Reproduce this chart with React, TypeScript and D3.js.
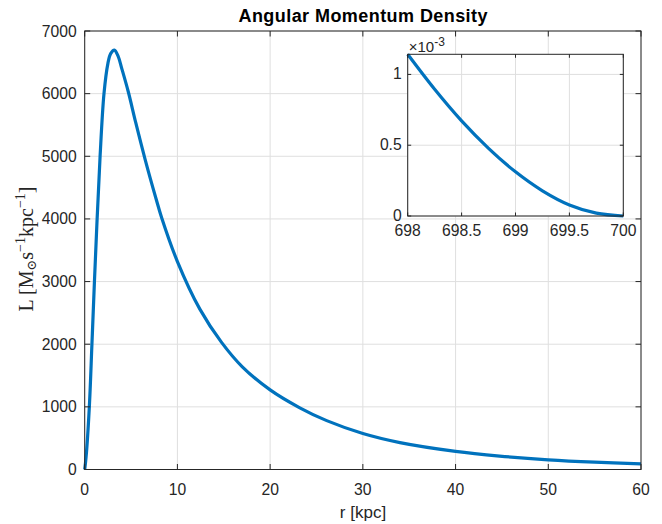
import React from "react";
import * as d3 from "d3";

// Main curve: r [kpc] and L values
const rValues = [0, 0.15, 0.5, 0.78, 1.05, 1.34, 1.66, 2.08, 2.5, 2.8, 3.2, 3.6, 4.0, 4.7, 5.5, 6.5, 7.68, 8.3, 10, 12.42, 14.76, 17, 20, 23.2, 26.1, 30, 34, 40, 44.75, 50, 55, 60];
const lValues = [0, 200, 1000, 2000, 3000, 4000, 5000, 6000, 6480, 6640, 6695, 6600, 6400, 6030, 5540, 4960, 4330, 4020, 3320, 2560, 2030, 1640, 1271, 985, 780, 575, 430, 290, 215, 155, 117, 91];

// Inset curve (values in units of 1e-3)
const insetR = [698, 698.25, 698.5, 698.75, 699, 699.25, 699.5, 699.75, 700];
const insetL = [1.142, 0.895, 0.672, 0.478, 0.312, 0.178, 0.078, 0.02, 0];

const xTicks = [0, 10, 20, 30, 40, 50, 60];
const yTicks = [0, 1000, 2000, 3000, 4000, 5000, 6000, 7000];
const insetXTicks = [698, 698.5, 699, 699.5, 700];
const insetYTicks = [0, 0.5, 1];

const titleText = "Angular Momentum Density";
const xLabelText = "r [kpc]";

const BLUE = "#0072BD";
const GRID = "#dfdfdf";
const AXIS = "#262626";
const FONT = "'Liberation Sans', Arial, Helvetica, sans-serif";

export default function App() {
  const W = 662, H = 524;
  const x = d3.scaleLinear().domain([0, 60]).range([84.7, 641]);
  const y = d3.scaleLinear().domain([0, 7000]).range([469.5, 31]);
  const ix = d3.scaleLinear().domain([698, 700]).range([407.7, 623.3]);
  const iy = d3.scaleLinear().domain([0, 1.142]).range([216, 54.3]);

  const mainData = rValues.map((r, i) => [r, lValues[i]] as [number, number]);
  const insetData = insetR.map((r, i) => [r, insetL[i]] as [number, number]);

  const line = d3.line<[number, number]>().x(d => x(d[0])).y(d => y(d[1])).curve(d3.curveCatmullRom.alpha(0.5));
  const iline = d3.line<[number, number]>().x(d => ix(d[0])).y(d => iy(d[1])).curve(d3.curveCatmullRom.alpha(0.5));

  const [x0, x1] = x.range();
  const [y0, y1] = y.range();
  const [ix0, ix1] = ix.range();
  const [iy0, iy1] = iy.range();
  const tl = 5.5;
  const itl = 3.5;
  const fs = 15.7;

  return (
    <svg width={W} height={H} style={{ position: "absolute", left: 0, top: 0, background: "#fff" }} fontFamily={FONT}>
      <rect x={0} y={0} width={W} height={H} fill="#fff" />
      {/* main grid */}
      {xTicks.map(t => (
        <line key={"gx" + t} x1={x(t)} x2={x(t)} y1={y0} y2={y1} stroke={GRID} strokeWidth={1} />
      ))}
      {yTicks.map(t => (
        <line key={"gy" + t} x1={x0} x2={x1} y1={y(t)} y2={y(t)} stroke={GRID} strokeWidth={1} />
      ))}
      {/* main curve */}
      <path d={line(mainData) || ""} fill="none" stroke={BLUE} strokeWidth={3.2} strokeLinejoin="round" />
      {/* main box */}
      <rect x={x0} y={y1} width={x1 - x0} height={y0 - y1} fill="none" stroke={AXIS} strokeWidth={1} />
      {xTicks.map(t => (
        <g key={"tx" + t}>
          <line x1={x(t)} x2={x(t)} y1={y0} y2={y0 - tl} stroke={AXIS} />
          <line x1={x(t)} x2={x(t)} y1={y1} y2={y1 + tl} stroke={AXIS} />
          <text x={x(t)} y={y0 + 25.5} textAnchor="middle" fontSize={fs} fill={AXIS}>{t}</text>
        </g>
      ))}
      {yTicks.map(t => (
        <g key={"ty" + t}>
          <line x1={x0} x2={x0 + tl} y1={y(t)} y2={y(t)} stroke={AXIS} />
          <line x1={x1} x2={x1 - tl} y1={y(t)} y2={y(t)} stroke={AXIS} />
          <text x={x0 - 8} y={y(t) + 5.5} textAnchor="end" fontSize={fs} fill={AXIS}>{t}</text>
        </g>
      ))}
      {/* title and labels */}
      <text x={363} y={22} textAnchor="middle" fontSize={18} fontWeight="bold" fill="#000" textLength={249} lengthAdjust="spacing">{titleText}</text>
      <text x={363} y={518} textAnchor="middle" fontSize={17} fill={AXIS}>{xLabelText}</text>
      <text transform="translate(33,249) rotate(-90)" textAnchor="middle" fontFamily="'Liberation Serif', 'DejaVu Serif', serif" fontSize={20} fill={AXIS}>
        <tspan>L [M</tspan>
        <tspan fontSize={13} dy={3}>⊙</tspan>
        <tspan dy={-3}>s</tspan>
        <tspan fontSize={14} dy={-8}>−1</tspan>
        <tspan dy={8}>kpc</tspan>
        <tspan fontSize={14} dy={-8}>−1</tspan>
        <tspan dy={8}>]</tspan>
      </text>

      {/* inset */}
      <rect x={ix0} y={iy1} width={ix1 - ix0} height={iy0 - iy1} fill="#fff" />
      {insetXTicks.map(t => (
        <line key={"igx" + t} x1={ix(t)} x2={ix(t)} y1={iy0} y2={iy1} stroke={GRID} strokeWidth={1} />
      ))}
      {insetYTicks.map(t => (
        <line key={"igy" + t} x1={ix0} x2={ix1} y1={iy(t)} y2={iy(t)} stroke={GRID} strokeWidth={1} />
      ))}
      <path d={iline(insetData) || ""} fill="none" stroke={BLUE} strokeWidth={3.2} strokeLinejoin="round" />
      <rect x={ix0} y={iy1} width={ix1 - ix0} height={iy0 - iy1} fill="none" stroke={AXIS} strokeWidth={1} />
      {insetXTicks.map(t => (
        <g key={"itx" + t}>
          <line x1={ix(t)} x2={ix(t)} y1={iy0} y2={iy0 - itl} stroke={AXIS} />
          <line x1={ix(t)} x2={ix(t)} y1={iy1} y2={iy1 + itl} stroke={AXIS} />
          <text x={ix(t)} y={iy0 + 20} textAnchor="middle" fontSize={fs} fill={AXIS}>{t}</text>
        </g>
      ))}
      {insetYTicks.map(t => (
        <g key={"ity" + t}>
          <line x1={ix0} x2={ix0 + itl} y1={iy(t)} y2={iy(t)} stroke={AXIS} />
          <line x1={ix1} x2={ix1 - itl} y1={iy(t)} y2={iy(t)} stroke={AXIS} />
          <text x={ix0 - 6} y={iy(t) + 5} textAnchor="end" fontSize={fs} fill={AXIS}>{t}</text>
        </g>
      ))}
      <text x={ix0 + 1} y={51.5} fontSize={15} fill={AXIS}>
        <tspan>×10</tspan>
        <tspan fontSize={12} dy={-6}>-3</tspan>
      </text>
    </svg>
  );
}
